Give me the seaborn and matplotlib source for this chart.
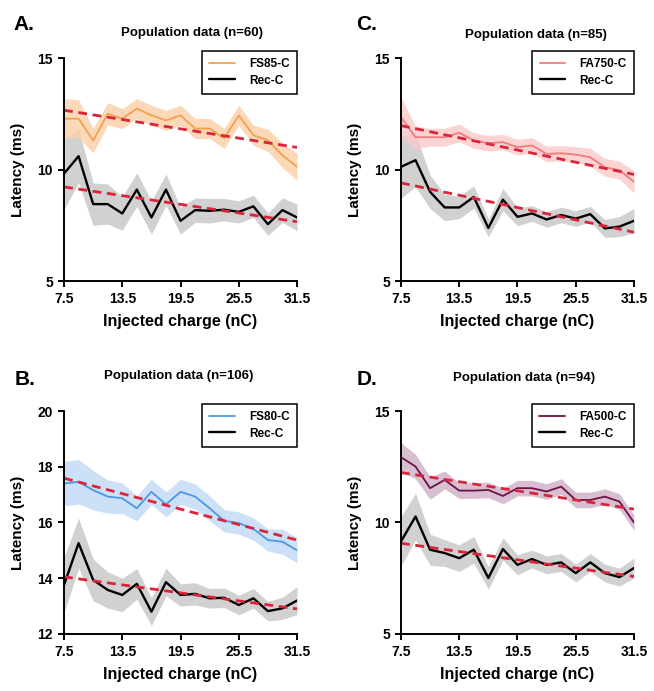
import numpy as np
import seaborn as sns
import matplotlib.pyplot as plt

# ---------------------------------------------------------
# DATA
# ---------------------------------------------------------
charge = [7.5, 9, 10.5, 12, 13.5, 15, 16.5, 18, 19.5, 21, 22.5, 24, 25.5, 27, 28.5, 30, 31.5]
xticks = [7.5, 13.5, 19.5, 25.5, 31.5]
fit_x = [7.5, 31.5]

# Panel A - FS85-C (n=60)
fs85 = [12.28, 12.28, 11.3, 12.5, 12.28, 12.73, 12.43, 12.2, 12.43, 11.84, 11.84, 11.4, 12.43, 11.54, 11.31, 10.64, 10.12]
fs85_err = [0.9, 0.85, 0.55, 0.5, 0.45, 0.45, 0.45, 0.45, 0.45, 0.45, 0.45, 0.45, 0.45, 0.45, 0.5, 0.55, 0.6]
rec_a = [9.82, 10.6, 8.45, 8.45, 8.03, 9.1, 7.85, 9.1, 7.7, 8.18, 8.15, 8.2, 8.1, 8.35, 7.55, 8.18, 7.85]
rec_a_err = [1.6, 1.2, 0.95, 0.9, 0.75, 0.75, 0.75, 0.7, 0.6, 0.55, 0.55, 0.5, 0.5, 0.5, 0.5, 0.55, 0.6]
fs85_fit = [12.66, 10.99]
rec_a_fit = [9.22, 7.66]

# Panel C - FA750-C (n=85)
fa750 = [12.35, 11.45, 11.45, 11.45, 11.65, 11.3, 11.18, 11.23, 11.0, 11.08, 10.7, 10.73, 10.67, 10.55, 10.1, 9.97, 9.45]
fa750_err = [0.9, 0.5, 0.4, 0.4, 0.4, 0.35, 0.35, 0.35, 0.35, 0.35, 0.35, 0.35, 0.35, 0.4, 0.4, 0.4, 0.5]
rec_c = [10.12, 10.42, 9.0, 8.3, 8.3, 8.77, 7.38, 8.65, 7.88, 8.03, 7.76, 7.96, 7.8, 8.0, 7.36, 7.44, 7.7]
rec_c_err = [1.4, 1.2, 0.75, 0.6, 0.5, 0.5, 0.4, 0.5, 0.4, 0.35, 0.35, 0.35, 0.35, 0.35, 0.4, 0.45, 0.55]
fa750_fit = [11.97, 9.78]
rec_c_fit = [9.4, 7.19]

# Panel B - FS80-C (n=106)
fs80 = [17.4, 17.46, 17.16, 16.93, 16.87, 16.51, 17.1, 16.65, 17.1, 16.93, 16.51, 16.06, 15.98, 15.77, 15.37, 15.31, 15.0]
fs80_err = [0.8, 0.8, 0.7, 0.6, 0.55, 0.45, 0.45, 0.45, 0.45, 0.45, 0.45, 0.4, 0.4, 0.4, 0.4, 0.45, 0.45]
rec_b = [13.76, 15.26, 13.94, 13.58, 13.4, 13.8, 12.8, 13.86, 13.4, 13.44, 13.28, 13.3, 13.04, 13.28, 12.82, 12.92, 13.2]
rec_b_err = [1.0, 0.9, 0.75, 0.65, 0.6, 0.55, 0.5, 0.5, 0.4, 0.4, 0.35, 0.35, 0.35, 0.35, 0.35, 0.4, 0.5]
fs80_fit = [17.59, 15.37]
rec_b_fit = [14.05, 12.9]

# Panel D - FA500-C (n=94)
fa500 = [12.93, 12.51, 11.54, 11.91, 11.43, 11.43, 11.46, 11.19, 11.54, 11.54, 11.39, 11.61, 11.01, 11.01, 11.16, 10.94, 10.0]
fa500_err = [0.65, 0.55, 0.5, 0.4, 0.35, 0.35, 0.35, 0.35, 0.35, 0.35, 0.35, 0.35, 0.35, 0.35, 0.35, 0.35, 0.35]
rec_d = [9.15, 10.27, 8.78, 8.63, 8.4, 8.78, 7.51, 8.81, 8.1, 8.36, 8.1, 8.21, 7.73, 8.21, 7.73, 7.55, 7.96]
rec_d_err = [1.1, 1.05, 0.7, 0.6, 0.6, 0.6, 0.5, 0.5, 0.45, 0.4, 0.4, 0.4, 0.4, 0.4, 0.4, 0.4, 0.45]
fa500_fit = [12.24, 10.6]
rec_d_fit = [9.07, 7.58]

# ---------------------------------------------------------
# STYLE
# ---------------------------------------------------------
sns.set_style('ticks')
plt.rcParams['font.family'] = ['Liberation Sans', 'DejaVu Sans']
plt.rcParams['font.weight'] = 'bold'
plt.rcParams['axes.linewidth'] = 1.4
for key in ('text.color', 'axes.labelcolor', 'xtick.color', 'ytick.color', 'axes.edgecolor'):
    plt.rcParams[key] = 'black'

FIT_COLOR = '#D9253C'
REC_COLOR = 'black'
REC_BAND = '#BEBEBE'

panels = [
    # letter, title, label, mean, err, fit, rec, rec_err, rec_fit, line col, band col, ylim, yticks, axes rect, title pos
    ('A.', 'Population data (n=60)', 'FS85-C', fs85, fs85_err, fs85_fit, rec_a, rec_a_err, rec_a_fit,
     '#F5A04D', '#FAD0A6', (5, 15), [5, 10, 15], [0.0979, 0.5933, 0.3563, 0.3227], (0.55, 1.112)),
    ('C.', 'Population data (n=85)', 'FA750-C', fa750, fa750_err, fa750_fit, rec_c, rec_c_err, rec_c_fit,
     '#F27A7A', '#FAC9C9', (5, 15), [5, 10, 15], [0.6131, 0.5933, 0.3563, 0.3227], (0.58, 1.103)),
    ('B.', 'Population data (n=106)', 'FS80-C', fs80, fs80_err, fs80_fit, rec_b, rec_b_err, rec_b_fit,
     '#4B97E3', '#C0DAF6', (12, 20), [12, 14, 16, 18, 20], [0.0979, 0.0825, 0.3563, 0.3227], (0.49, 1.157)),
    ('D.', 'Population data (n=94)', 'FA500-C', fa500, fa500_err, fa500_fit, rec_d, rec_d_err, rec_d_fit,
     '#6E1245', '#CDB0C6', (5, 15), [5, 10, 15], [0.6131, 0.0825, 0.3563, 0.3227], (0.53, 1.148)),
]

letter_pos = {'A.': (0.020, 0.957), 'C.': (0.544, 0.957), 'B.': (0.022, 0.443), 'D.': (0.546, 0.443)}

fig = plt.figure(figsize=(6.54, 6.91), dpi=100)

for (letter, title, label, mean, err, fit, rec, rec_err, rec_fit,
     col, band, ylim, yticks, rect, tpos) in panels:
    ax = fig.add_axes(rect)
    mean, err = np.array(mean), np.array(err)
    rec, rec_err = np.array(rec), np.array(rec_err)

    # SEM bands
    ax.fill_between(charge, rec - rec_err, rec + rec_err, color=REC_BAND, alpha=0.7, lw=0)
    ax.fill_between(charge, mean - err, mean + err, color=band, alpha=0.8, lw=0)

    # mean lines
    sns.lineplot(x=charge, y=mean, ax=ax, color=col, lw=1.3, label=label)
    sns.lineplot(x=charge, y=rec, ax=ax, color=REC_COLOR, lw=1.7, label='Rec-C')

    # linear fits
    for f in (fit, rec_fit):
        sns.lineplot(x=fit_x, y=f, ax=ax, color=FIT_COLOR, lw=2.0, dashes=False, linestyle=(0, (3.2, 2.0)))

    handles, labels = ax.get_legend_handles_labels()
    leg = ax.legend(handles[:2], labels[:2], loc='upper right', bbox_to_anchor=(1.0, 1.03),
                    borderaxespad=0, fancybox=False, framealpha=1, edgecolor='black',
                    prop={'weight': 'bold', 'size': 8.5}, handlelength=2.2, labelspacing=0.35,
                    borderpad=0.6, handletextpad=1.2)
    leg.get_frame().set_linewidth(1.1)

    ax.set_xlim(7.5, 31.5)
    ax.set_ylim(*ylim)
    ax.set_xticks(xticks)
    ax.set_xticklabels([f'{t:g}' for t in xticks])
    ax.set_yticks(yticks)
    ax.tick_params(labelsize=10, width=1.4, length=4.5, color='black', labelcolor='black')
    sns.despine(ax=ax)

    ax.set_xlabel('Injected charge (nC)', fontsize=11.5, fontweight='bold', labelpad=6)
    ax.set_ylabel('Latency (ms)', fontsize=11, fontweight='bold', labelpad=9)
    ax.text(tpos[0], tpos[1], title, transform=ax.transAxes, ha='center', va='center',
            fontsize=9.5, fontweight='bold')

    lx, ly = letter_pos[letter]
    fig.text(lx, ly, letter, fontsize=15, fontweight='bold', ha='left', va='baseline')

fig.savefig('out.png', dpi=100)
